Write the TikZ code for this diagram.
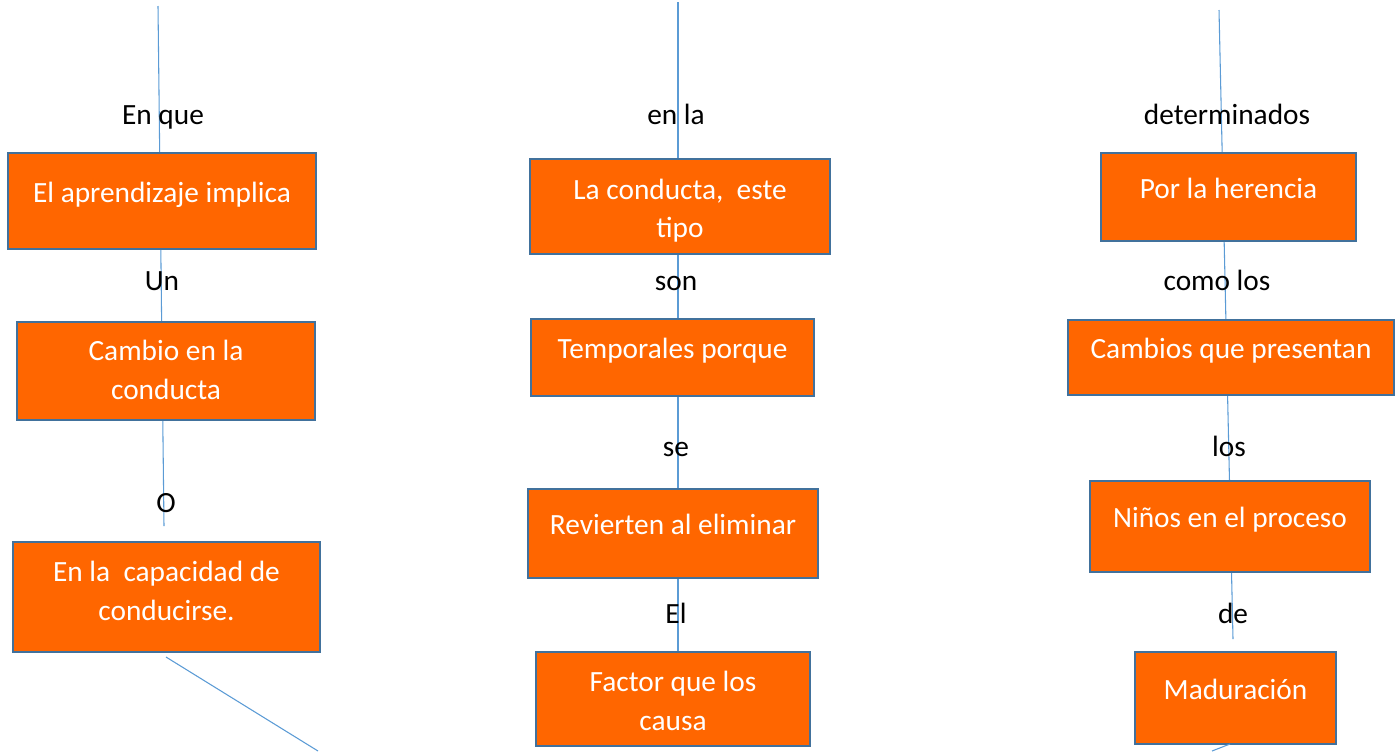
\documentclass[tikz,border=0pt]{standalone}
\usepackage{fontspec}
\setmainfont{Carlito}
\usetikzlibrary{backgrounds}
\definecolor{orng}{HTML}{FF6600}
\definecolor{bordc}{HTML}{41719C}
\definecolor{linec}{HTML}{5B9BD5}
\begin{document}
\begin{tikzpicture}[x=0.75pt,y=-0.75pt,
  box/.style={draw=bordc, fill=orng, line width=1.5pt, text=white, align=center,
    inner sep=0pt, font=\fontsize{22}{28.8}\selectfont},
  single/.style={text height=20pt, text depth=18pt},
  lbl/.style={inner sep=0pt, anchor=base, text=black, font=\fontsize{22}{28.8}\selectfont},
  conn/.style={draw=linec, line width=0.8pt}]
\useasboundingbox (0,0) rectangle (1395,751);
% left column
\node[box, single, minimum width=231pt, minimum height=72pt] (b1) at (162,201) {El aprendizaje implica};
\node[box, text height=43.2pt, text depth=0pt, minimum width=223.5pt, minimum height=73.5pt] (b2) at (166,370.5) {Cambio en la\\conducta};
\node[box, text height=34.5pt, text depth=0pt, minimum width=230.25pt, minimum height=82.5pt] (b3) at (166.5,597) {En la\ \ capacidad de\\conducirse.};
\node[lbl] (l1) at (163,124) {En que};
\node[lbl] (l2) at (162,290) {Un};
\node[lbl] (l3) at (166,512) {O};
% middle column
\node[box, text height=46.6pt, text depth=0pt, minimum width=225pt, minimum height=71.25pt] (b4) at (680,206.5) {La conducta,\ \ este\\tipo};
\node[box, single, minimum width=212.25pt, minimum height=57.75pt] (b5) at (672.5,357.5) {Temporales porque};
\node[box, single, minimum width=217.5pt, minimum height=66.75pt] (b6) at (673,533.5) {Revierten al eliminar};
\node[box, text height=46.5pt, text depth=0pt, minimum width=205.5pt, minimum height=70.5pt] (b7) at (673,699) {Factor que los\\causa};
\node[lbl] (l4) at (676,124) {en la};
\node[lbl] (l5) at (676,290) {son};
\node[lbl] (l6) at (676,456) {se};
\node[lbl] (l7) at (676,623) {El};
% right column
\node[box, single, minimum width=191.25pt, minimum height=66pt] (b8) at (1228.5,197) {Por la herencia};
\node[box, single, minimum width=244.5pt, minimum height=56.25pt] (b9) at (1231,357.5) {Cambios que presentan};
\node[box, single, minimum width=210pt, minimum height=68.25pt] (b10) at (1230,526.5) {Niños en el proceso};
\node[box, single, minimum width=150.75pt, minimum height=69pt] (b11) at (1235.5,698) {Maduración};
\node[lbl] (l8) at (1227,124) {determinados};
\node[lbl] (l9) at (1217,290) {como los};
\node[lbl] (l10) at (1229,456) {los};
\node[lbl] (l11) at (1233,623) {de};
% coordinates
\coordinate (t1) at (158,6);
\coordinate (e1) at (164,526);
\coordinate (t2) at (678,2);
\coordinate (e2) at (678,652);
\coordinate (t3) at (1219,10);
\coordinate (e3) at (1233,639);
\coordinate (d1a) at (166,657);
\coordinate (d1b) at (318,751);
\coordinate (d2a) at (1230,744);
\coordinate (d2b) at (1212,751);
\begin{scope}[on background layer]
\draw[conn] (t1) -- (e1);
\draw[conn] (t2) -- (e2);
\draw[conn] (t3) -- (e3);
\end{scope}
\draw[conn] (d1a) -- (d1b);
\draw[conn] (d2a) -- (d2b);
\end{tikzpicture}
\end{document}
